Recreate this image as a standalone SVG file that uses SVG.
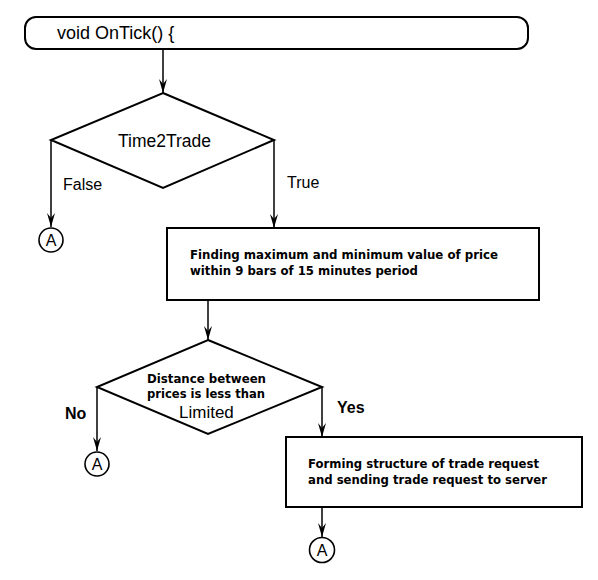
<svg xmlns="http://www.w3.org/2000/svg" width="598" height="580" viewBox="0 0 598 580">
<defs>
<style>
.shape{fill:#fff;stroke:#000;stroke-width:2}
.conn{fill:none;stroke:#000;stroke-width:1.5}
.reg{font-family:"Liberation Sans",Arial,sans-serif;fill:#000}
.bold{font-family:"DejaVu Sans",Verdana,sans-serif;font-weight:bold;fill:#000;font-size:13px}
.lbl{font-family:"Liberation Sans",Arial,sans-serif;font-size:16px;fill:#000}
.circ{fill:#fff;stroke:#000;stroke-width:1.6}
.ctext{font-family:"Liberation Sans",Arial,sans-serif;font-size:16px;text-anchor:middle;fill:#000}
</style>
<marker id="arr" viewBox="-15 -5 16 10" refX="0" refY="0" markerWidth="16" markerHeight="10" markerUnits="userSpaceOnUse" orient="auto">
<path d="M0,0 L-14,-4 L-9,0 L-14,4 Z" fill="#000"/>
</marker>
</defs>
<rect width="598" height="580" fill="#fff"/>
<g id="connectors">
<line class="conn" x1="163" y1="50" x2="163" y2="93" marker-end="url(#arr)"/>
<line class="conn" x1="51" y1="140" x2="51" y2="227" marker-end="url(#arr)"/>
<line class="conn" x1="274" y1="140" x2="274" y2="228" marker-end="url(#arr)"/>
<line class="conn" x1="208" y1="300" x2="208" y2="340" marker-end="url(#arr)"/>
<line class="conn" x1="97" y1="387" x2="97" y2="451" marker-end="url(#arr)"/>
<line class="conn" x1="322" y1="387" x2="322" y2="437" marker-end="url(#arr)"/>
<line class="conn" x1="322" y1="507" x2="322" y2="537" marker-end="url(#arr)"/>
<text class="lbl" x="63" y="190">False</text>
<text class="lbl" x="287" y="188">True</text>
<text class="lbl" x="65" y="419" style="font-weight:bold">No</text>
<text class="lbl" x="337" y="413" style="font-weight:bold">Yes</text>
</g>
<g id="start">
<rect class="shape" x="25" y="17" width="503" height="32" rx="11" ry="11"/>
<text class="reg" x="57" y="39" font-size="18">void OnTick() {</text>
</g>
<g id="time2trade">
<polygon class="shape" points="163,93 274,140 163,188 51,140"/>
<text class="reg" x="164.5" y="147" font-size="17.5" text-anchor="middle">Time2Trade</text>
</g>
<g id="connA1">
<circle class="circ" cx="51" cy="240" r="12"/>
<text class="ctext" x="51" y="246">A</text>
</g>
<g id="findMaxMin">
<rect class="shape" x="167" y="228" width="372" height="72"/>
<text class="bold" x="190" y="259" textLength="308" lengthAdjust="spacingAndGlyphs">Finding maximum and minimum value of price</text>
<text class="bold" x="190" y="275" textLength="228" lengthAdjust="spacingAndGlyphs">within 9 bars of 15 minutes period</text>
</g>
<g id="distance">
<polygon class="shape" points="208,340 322,387 208,434 97,387"/>
<text class="bold" x="147" y="383" textLength="119" lengthAdjust="spacingAndGlyphs">Distance between</text>
<text class="bold" x="147" y="398" textLength="118" lengthAdjust="spacingAndGlyphs">prices is less than</text>
<text class="reg" x="179" y="418" font-size="17">Limited</text>
</g>
<g id="connA2">
<circle class="circ" cx="97" cy="464" r="12"/>
<text class="ctext" x="97" y="470">A</text>
</g>
<g id="forming">
<rect class="shape" x="286" y="437" width="296" height="70"/>
<text class="bold" x="308" y="468" textLength="231" lengthAdjust="spacingAndGlyphs">Forming structure of trade request</text>
<text class="bold" x="308" y="484" textLength="239" lengthAdjust="spacingAndGlyphs">and sending trade request to server</text>
</g>
<g id="connA3">
<circle class="circ" cx="322" cy="550" r="12.5"/>
<text class="ctext" x="322" y="556">A</text>
</g>
</svg>
